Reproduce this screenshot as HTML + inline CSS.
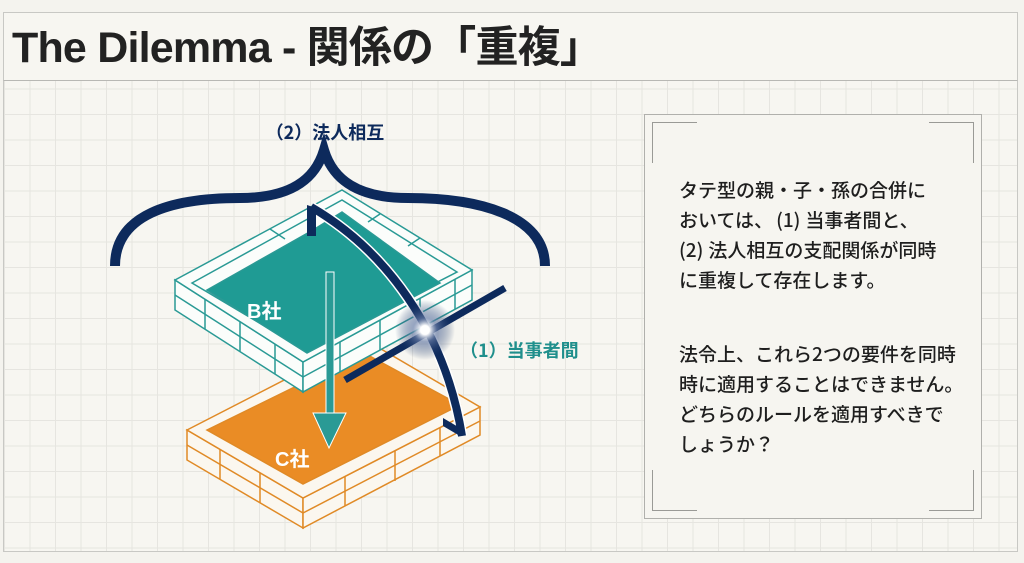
<!DOCTYPE html>
<html><head><meta charset="utf-8"><style>
html,body{margin:0;padding:0;}
body{width:1024px;height:563px;background:#f4f3ee;position:relative;overflow:hidden;font-family:"Liberation Sans","Noto Sans CJK JP",sans-serif;}
.frame{position:absolute;left:3px;top:12px;width:1013px;height:538px;border:1px solid #c8c8c4;background-color:#f7f6f1;
background-image:linear-gradient(#e6e5e0 1px,transparent 1px),linear-gradient(90deg,#e6e5e0 1px,transparent 1px);background-size:25.5px 25.5px;background-position:0 -1px;}
.title{position:absolute;left:3px;top:12px;width:1013px;height:67px;border:1px solid #c8c8c4;border-bottom:1px solid #b8b8b4;background:#f7f6f1;}
.title h1{margin:0;position:absolute;left:8px;top:10px;font-size:43px;line-height:50px;font-weight:bold;color:#222;white-space:nowrap;letter-spacing:-0.8px;font-family:"Liberation Sans","Noto Sans CJK JP",sans-serif;}
.panel{position:absolute;left:644px;top:114px;width:336px;height:403px;border:1px solid #b0b0ac;background:#f6f5f0;}
.c{position:absolute;width:44px;height:40px;border-color:#9a9a96;border-style:solid;border-width:0;}
.p{position:absolute;left:34px;font-size:19px;line-height:30px;color:#1e1e1e;width:305px;font-family:"Noto Sans CJK JP",sans-serif;font-weight:500;white-space:nowrap;}
.pp{margin:0 5px 0 3px;}
</style></head><body>
<div class="frame"></div>
<div class="title"><h1>The Dilemma - 関係の「重複」</h1></div>
<svg width="1024" height="563" style="position:absolute;left:0;top:0">
<defs>
<radialGradient id="g"><stop offset="0" stop-color="#fff"/><stop offset="0.15" stop-color="#fff"/><stop offset="0.4" stop-color="#6b7fa8" stop-opacity="0.7"/><stop offset="1" stop-color="#0d2a5c" stop-opacity="0"/></radialGradient>
</defs>
<g stroke="#e08a26" stroke-width="1.5" fill="#fbf7ef">
<polygon points="187,430 303,498 303,528 187,460"/>
<polygon points="303,498 480,407 480,435 303,528"/>
<polygon points="187,430 364,339 480,407 303,498"/>
<polygon points="207,430 364,353 460,405 303,484" fill="#ea8c25"/>
<line x1="187" y1="445" x2="303" y2="513"/><line x1="303" y1="513" x2="480" y2="421"/>
<line x1="220" y1="449" x2="220" y2="479"/><line x1="260" y1="473" x2="260" y2="503"/><line x1="345" y1="476" x2="345" y2="506"/><line x1="395" y1="451" x2="395" y2="481"/><line x1="440" y1="428" x2="440" y2="456"/>
</g>
<g stroke="#2a9a95" stroke-width="1.5" fill="#fbfdfb">
<polygon points="175,280 303,362 303,392 175,310"/>
<polygon points="303,362 472,270 472,300 303,392"/>
<polygon points="175,280 342,190 472,270 303,362"/>
<polygon points="192,283 342,200 457,272 305,350"/>
<polygon points="207,290 313,230 342,212 440,283 307,353" fill="#1f9b94"/>
<line x1="175" y1="295" x2="303" y2="377"/><line x1="303" y1="377" x2="472" y2="285"/>
<line x1="205" y1="299" x2="205" y2="329"/><line x1="240" y1="322" x2="240" y2="352"/><line x1="275" y1="344" x2="275" y2="374"/><line x1="340" y1="342" x2="340" y2="372"/><line x1="380" y1="320" x2="380" y2="350"/><line x1="420" y1="298" x2="420" y2="328"/><line x1="455" y1="279" x2="455" y2="309"/>
<line x1="270" y1="229" x2="285" y2="239"/><line x1="380" y1="214" x2="368" y2="222"/><line x1="420" y1="238" x2="408" y2="246"/>
</g>
<path d="M115,266 C115,215 170,198 240,198 C290,198 315,180 324,150 C333,180 358,198 408,198 C478,198 545,215 545,266" fill="none" stroke="#0d2a5c" stroke-width="10"/>
<text x="325" y="139" text-anchor="middle" font-size="18" font-weight="bold" fill="#0d2a5c" font-family="Noto Sans CJK JP,sans-serif">（2）法人相互</text>
<rect x="326" y="272" width="8" height="142" fill="#2a9a95" stroke="#fff" stroke-width="1"/>
<polygon points="313,413 346,413 329,448" fill="#2a9a95" stroke="#fff" stroke-width="1"/>
<path d="M311,207 C385,250 445,330 462,436" fill="none" stroke="#fff" stroke-width="11"/>
<path d="M311,207 C385,250 445,330 462,436" fill="none" stroke="#0d2a5c" stroke-width="8"/>
<polygon points="307,205 316,208 316,236 307,236" fill="#0d2a5c"/>
<polygon points="443,418 460,428 460,436 443,426" fill="#0d2a5c"/>
<line x1="505" y1="288" x2="345" y2="380" stroke="#0d2a5c" stroke-width="7"/>
<circle cx="425" cy="330" r="30" fill="url(#g)"/>
<text x="247" y="318" font-size="20" font-weight="bold" fill="#fff" font-family="Liberation Sans,Noto Sans CJK JP,sans-serif">B社</text>
<text x="275" y="466" font-size="20" font-weight="bold" fill="#fff" font-family="Liberation Sans,Noto Sans CJK JP,sans-serif">C社</text>
<text x="460" y="357" font-size="18" font-weight="bold" fill="#1f8f8c" font-family="Noto Sans CJK JP,sans-serif">（1）当事者間</text>
</svg>
<div class="panel">
<div class="c" style="left:7px;top:7px;border-left-width:1.5px;border-top-width:1.5px"></div>
<div class="c" style="right:7px;top:7px;border-right-width:1.5px;border-top-width:1.5px"></div>
<div class="c" style="left:7px;bottom:7px;border-left-width:1.5px;border-bottom-width:1.5px"></div>
<div class="c" style="right:7px;bottom:7px;border-right-width:1.5px;border-bottom-width:1.5px"></div>
<div class="p" style="top:60px">タテ型の親・子・孫の合併に<br>おいては、<span class="pp">(1)</span>当事者間と、<br><span class="pp" style="margin-left:0">(2)</span>法人相互の支配関係が同時<br>に重複して存在します。</div>
<div class="p" style="top:224px">法令上、これら2つの要件を同時<br>時に適用することはできません。<br>どちらのルールを適用すべきで<br>しょうか？</div>
</div>
</body></html>
